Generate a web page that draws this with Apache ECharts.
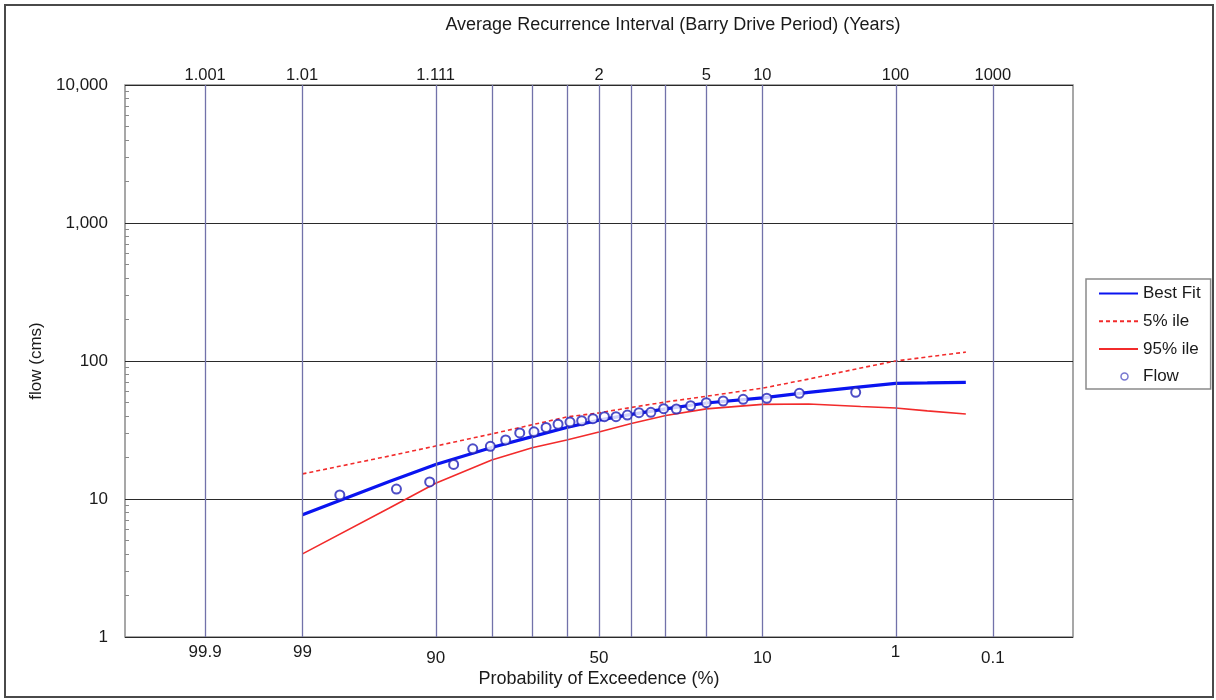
<!DOCTYPE html>
<html><head><meta charset="utf-8">
<script src="https://cdn.jsdelivr.net/npm/echarts@6/dist/echarts.min.js"></script>
<style>html,body{margin:0;padding:0;background:#fff}#c{width:1216px;height:700px}</style>
</head><body><div id="c"></div>
<script>
// ---- data ----
const probLevels = [99, 95, 90, 80, 70, 60, 50, 40, 30, 20, 10, 5, 2, 1, 0.5, 0.2];
const bestFit   = [7.7, 13.4, 17.8, 23.6, 28.3, 33.0, 37.3, 41.0, 45.0, 49.6, 54.0, 59.3, 65.0, 68.9, 69.4, 70.1];
const pct5      = [15.2, 20.5, 24.2, 29.6, 34.5, 39.3, 42.1, 46.1, 50.5, 55.5, 63.5, 74.0, 89.0, 100, 107, 116];
const pct95     = [4.0, 8.6, 13.0, 19.2, 23.5, 26.8, 30.6, 35.3, 40.3, 45.0, 48.5, 48.8, 46.8, 45.6, 43.5, 41.3];
const flowExceed = [97.9, 94.4, 90.8, 87.3, 83.9, 80.3, 76.8, 73.3, 69.5, 66.1, 62.6, 59.0, 55.4, 51.9, 48.3, 44.7, 41.2, 37.7, 34.2, 30.6, 27.2, 23.6, 20.0, 16.5, 12.9, 9.4, 5.8, 2.2];
const flowValues = [10.7, 11.8, 13.3, 17.8, 23.1, 24.1, 26.8, 30.1, 30.7, 33.0, 34.8, 36.1, 36.9, 38.2, 39.5, 39.5, 40.6, 42.2, 42.5, 45.1, 44.9, 47.4, 49.9, 51.3, 52.8, 53.7, 58.3, 59.3];
const gridExceed = [99.9, 99, 90, 80, 70, 60, 50, 40, 30, 20, 10, 1, 0.1];
const bottomLabelsUpper = ['99.9', '99', '1'];
const bottomLabelsLower = ['90', '50', '10', '0.1'];
const returnPeriods = ['1.001', '1.01', '1.111', '2', '5', '10', '100', '1000'];
const yMinorTicks = [2,3,4,5,6,7,8,9,20,30,40,50,60,70,80,90,200,300,400,500,600,700,800,900,2000,3000,4000,5000,6000,7000,8000,9000];

// ---- normal probability scale transform ----
function probit(p) {
  const a=[-3.969683028665376e+01,2.209460984245205e+02,-2.759285104469687e+02,1.383577518672690e+02,-3.066479806614716e+01,2.506628277459239e+00];
  const b=[-5.447609879822406e+01,1.615858368580409e+02,-1.556989798598866e+02,6.680131188771972e+01,-1.328068155288572e+01];
  const c=[-7.784894002430293e-03,-3.223964580411365e-01,-2.400758277161838e+00,-2.549732539343734e+00,4.374664141464968e+00,2.938163982698783e+00];
  const d=[7.784695709041462e-03,3.224671290700398e-01,2.445134137142996e+00,3.754408661907416e+00];
  const pl=0.02425, ph=1-pl; let q,r;
  if (p<pl){q=Math.sqrt(-2*Math.log(p));return (((((c[0]*q+c[1])*q+c[2])*q+c[3])*q+c[4])*q+c[5])/((((d[0]*q+d[1])*q+d[2])*q+d[3])*q+1);}
  if (p<=ph){q=p-0.5;r=q*q;return (((((a[0]*r+a[1])*r+a[2])*r+a[3])*r+a[4])*r+a[5])*q/(((((b[0]*r+b[1])*r+b[2])*r+b[3])*r+b[4])*r+1);}
  q=Math.sqrt(-2*Math.log(1-p));return -(((((c[0]*q+c[1])*q+c[2])*q+c[3])*q+c[4])*q+c[5])/((((d[0]*q+d[1])*q+d[2])*q+d[3])*q+1);
}
const zEx = e => -probit(e/100);           // exceedance (%) -> axis coordinate
const xMin = zEx(99.99), xMax = zEx(0.01);

const upperVals = bottomLabelsUpper.map(s => zEx(parseFloat(s)));
const lowerVals = bottomLabelsLower.map(s => zEx(parseFloat(s)));
const topVals = returnPeriods.map(s => zEx(100 / parseFloat(s)));
function lookup(vals, labels) {
  return v => { for (let i = 0; i < vals.length; i++) if (Math.abs(vals[i] - v) < 1e-6) return labels[i]; return ''; };
}

const FONT = 'Liberation Sans, Arial, sans-serif';
const TXT = '#1a1a1a';
const chart = echarts.init(document.getElementById('c'), null, {renderer: 'canvas'});

const baseX = {type: 'value', min: xMin, max: xMax, gridIndex: 0, splitLine: {show: false}, axisTick: {show: false}};

chart.setOption({
  animation: false,
  backgroundColor: '#fff',
  textStyle: {fontFamily: FONT},
  grid: {left: 125, right: 143, top: 85, bottom: 63, show: true, borderColor: '#8a8a8a', borderWidth: 1.5, containLabel: false, outerBoundsMode: 'none'},
  legend: {
    orient: 'vertical', left: 1086, top: 279,
    padding: [6, 10, 4, 12], itemGap: 10.7, itemWidth: 39, itemHeight: 14,
    borderColor: '#8a8a8a', borderWidth: 1.5, borderRadius: 0,
    textStyle: {fontSize: 17, color: TXT, fontFamily: FONT},
    data: [
      {name: 'Best Fit', itemStyle: {opacity: 0}},
      {name: '5% ile', itemStyle: {opacity: 0}},
      {name: '95% ile', itemStyle: {opacity: 0}},
      {name: 'Flow', icon: 'path://M0 0M39 14M22 7A3.5 3.5 0 1 1 29 7A3.5 3.5 0 1 1 22 7Z',
       itemStyle: {color: '#fff', borderColor: '#7878d0', borderWidth: 1.5, opacity: 1}}
    ]
  },
  xAxis: [
    Object.assign({}, baseX, {
      position: 'bottom', axisLine: {show: false, onZero: false},
      axisLabel: {customValues: upperVals, formatter: lookup(upperVals, bottomLabelsUpper), margin: 7, fontSize: 17, color: TXT, fontFamily: FONT},
      name: 'Probability of Exceedence (%)', nameLocation: 'middle', nameGap: 33,
      nameTextStyle: {fontSize: 18, color: TXT, fontFamily: FONT}
    }),
    Object.assign({}, baseX, {
      position: 'bottom', axisLine: {show: false, onZero: false},
      axisLabel: {customValues: lowerVals, formatter: lookup(lowerVals, bottomLabelsLower), margin: 13, fontSize: 17, color: TXT, fontFamily: FONT}
    }),
    Object.assign({}, baseX, {
      position: 'top', axisLine: {show: false, onZero: false},
      axisLabel: {customValues: topVals, formatter: lookup(topVals, returnPeriods), margin: 1, fontSize: 16.5, color: TXT, fontFamily: FONT}
    })
  ],
  yAxis: [
    {
      type: 'log', logBase: 10, min: 1, max: 10000, position: 'left',
      axisLine: {show: false, onZero: false}, axisTick: {show: false},
      axisLabel: {formatter: v => Number(v).toLocaleString('en-US'), fontSize: 17, color: TXT, margin: 17, fontFamily: FONT},
      splitLine: {show: true, lineStyle: {color: '#2a2a2a', width: 1}},
      name: 'flow (cms)', nameLocation: 'middle', nameGap: 80,
      nameTextStyle: {fontSize: 17, color: TXT, fontFamily: FONT}
    },
    {
      type: 'log', logBase: 10, min: 1, max: 10000, position: 'left',
      axisLine: {show: false, onZero: false}, axisLabel: {show: false}, splitLine: {show: false},
      axisTick: {show: true, inside: true, length: 4, customValues: yMinorTicks, lineStyle: {color: '#8a8a8a', width: 1}}
    }
  ],
  series: [
    {
      name: 'grid', type: 'line', data: [], z: 1, silent: true,
      markLine: {
        silent: true, symbol: ['none', 'none'], label: {show: false},
        lineStyle: {color: '#7272aa', width: 1.3, type: 'solid'},
        data: gridExceed.map(e => ({xAxis: zEx(e)}))
      }
    },
    {
      name: '95% ile', type: 'line', symbol: 'none', z: 3,
      lineStyle: {color: '#f22b2b', width: 1.6},
      itemStyle: {color: '#f22b2b'},
      data: probLevels.map((p, i) => [zEx(p), pct95[i]])
    },
    {
      name: '5% ile', type: 'line', symbol: 'none', z: 3,
      lineStyle: {color: '#f22b2b', width: 1.6, type: [4, 3]},
      itemStyle: {color: '#f22b2b'},
      data: probLevels.map((p, i) => [zEx(p), pct5[i]])
    },
    {
      name: 'Best Fit', type: 'line', symbol: 'none', z: 4,
      lineStyle: {color: '#0a14f0', width: 3.2},
      itemStyle: {color: '#0a14f0'},
      data: probLevels.map((p, i) => [zEx(p), bestFit[i]])
    },
    {
      name: 'Flow', type: 'scatter', symbol: 'emptyCircle', symbolSize: 9, z: 5,
      itemStyle: {color: '#2020b8', borderWidth: 2},
      data: flowExceed.map((e, i) => [zEx(e), flowValues[i]])
    }
  ],
  graphic: [
    {type: 'rect', shape: {x: 5, y: 5, width: 1208, height: 692}, style: {fill: 'none', stroke: '#4a4a4a', lineWidth: 2}, silent: true, z: 100},
    {type: 'text', x: 673, y: 25, style: {text: 'Average Recurrence Interval (Barry Drive Period) (Years)', fontSize: 18, fontFamily: FONT, fill: TXT, textAlign: 'center', textVerticalAlign: 'middle'}}
  ]
});
</script>
</body></html>
